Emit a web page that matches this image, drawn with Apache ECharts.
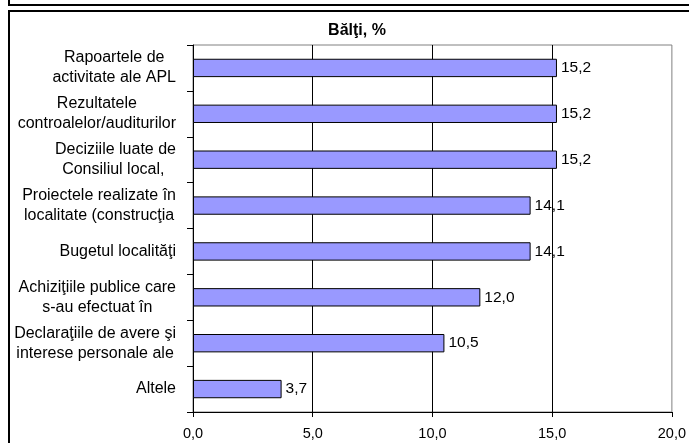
<!DOCTYPE html>
<html>
<head>
<meta charset="utf-8">
<script src="https://cdn.jsdelivr.net/npm/echarts@6/dist/echarts.min.js"></script>
<style>
	html, body { margin: 0; padding: 0; background: #fff; }
	#statistics { width: 689px; height: 443px; }
</style>
</head>
<body>
<div id="statistics"></div>
<script>
var titleText = 'Bălţi, %';
var categories = [
	'Rapoartele de\nactivitate ale APL',
	'Rezultatele\ncontroalelor/auditurilor',
	'Deciziile luate de\nConsiliul local, ',
	'Proiectele realizate în\nlocalitate (construcţia',
	'Bugetul localităţi',
	'Achiziţiile publice care\ns-au efectuat în',
	'Declaraţiile de avere şi\ninterese personale ale',
	'Altele'
];
var values = [15.2, 15.2, 15.2, 14.1, 14.1, 12.0, 10.5, 3.7];
var xTicks = [0, 5, 10, 15, 20];

var font = "'Liberation Sans', Arial, sans-serif";
function comma(v) {
	return Number(v).toFixed(1).replace('.', ',');
}

var myChart = echarts.init(document.getElementById('statistics'));
var option = {
	backgroundColor: '#fff',
	animation: false,
	textStyle: { fontFamily: font, color: '#000' },
	title: {
		text: titleText,
		left: 352,
		top: 18,
		textAlign: 'center',
		textStyle: { fontFamily: font, fontSize: 16, fontWeight: 'bold', color: '#000' }
	},
	// frame lines of the sheet around the chart
	graphic: [
		{ type: 'line', shape: { x1: 9, y1: 0, x2: 9, y2: 5 }, style: { stroke: '#000', lineWidth: 2 } },
		{ type: 'line', shape: { x1: 8, y1: 5, x2: 689, y2: 5 }, style: { stroke: '#000', lineWidth: 2 } },
		{ type: 'line', shape: { x1: 8, y1: 11, x2: 689, y2: 11 }, style: { stroke: '#000', lineWidth: 2 } },
		{ type: 'line', shape: { x1: 9, y1: 11, x2: 9, y2: 443 }, style: { stroke: '#000', lineWidth: 2 } }
	],
	grid: {
		left: 193,
		right: 13,
		top: 45,
		bottom: 31,
		show: true,
		borderColor: '#808080',
		borderWidth: 1,
		backgroundColor: '#fff'
	},
	xAxis: {
		type: 'value',
		min: xTicks[0],
		max: xTicks[xTicks.length - 1],
		interval: xTicks[1] - xTicks[0],
		axisLine: { show: true, lineStyle: { color: '#000', width: 1 } },
		axisTick: { show: true, length: 5, lineStyle: { color: '#000' } },
		splitLine: { show: true, showMinLine: false, showMaxLine: false, lineStyle: { color: '#000', width: 1 } },
		axisLabel: {
			margin: 14,
			fontSize: 14.5,
			fontFamily: font,
			color: '#000',
			formatter: comma
		}
	},
	yAxis: {
		type: 'category',
		data: categories,
		inverse: true,
		axisLine: { show: true, lineStyle: { color: '#000', width: 1 } },
		axisTick: { show: true, length: 6, lineStyle: { color: '#000' } },
		splitLine: { show: false },
		axisLabel: {
			margin: 17,
			color: '#000',
			formatter: function (v) {
				return v.split('\n').map(function (s) { return '{c|' + s + '}'; }).join('\n');
			},
			rich: {
				c: { align: 'center', fontSize: 16, lineHeight: 20, fontFamily: font, color: '#000' }
			}
		}
	},
	series: [{
		type: 'bar',
		data: values,
		barCategoryGap: '60%',
		itemStyle: { color: '#9999FF', borderColor: '#000', borderWidth: 1 },
		label: {
			show: true,
			position: 'right',
			distance: 4,
			fontSize: 15.5,
			fontFamily: font,
			color: '#000',
			formatter: function (p) { return comma(p.value); }
		}
	}]
};
myChart.setOption(option);
</script>
</body>
</html>
